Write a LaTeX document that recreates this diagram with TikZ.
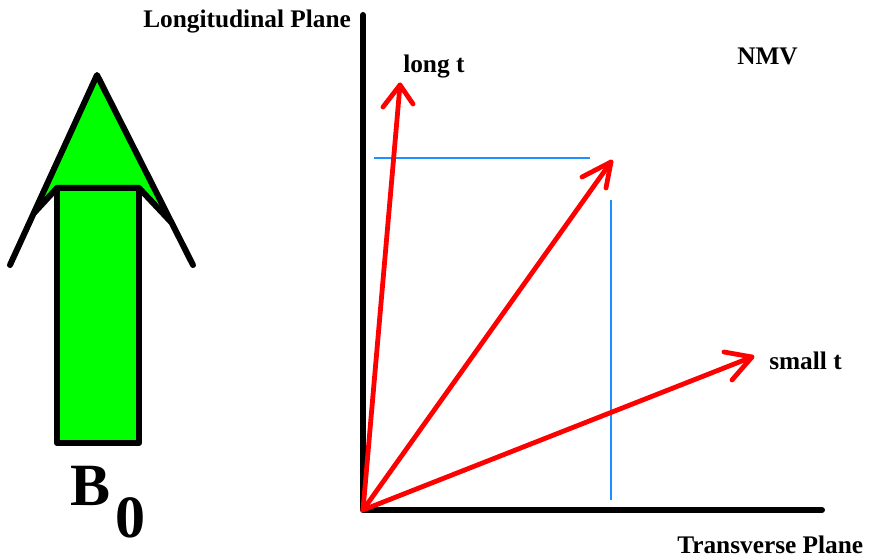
\documentclass[tikz,border=0pt]{standalone}
\usepackage{fontspec}
\setmainfont{Liberation Serif}
\definecolor{bgreen}{RGB}{0,255,0}
\definecolor{vred}{RGB}{255,0,0}
\definecolor{lblue}{RGB}{30,144,255}
\begin{document}
\begin{tikzpicture}[x=0.75pt,y=-0.75pt,
  blk/.style={line width=4.5pt,line cap=round,line join=round,black},
  vec/.style={line width=3.6pt,line cap=round,line join=round,vred},
  guide/.style={line width=1.8pt,lblue},
  lbl/.style={inner sep=0pt,anchor=base west,font=\fontsize{19pt}{20pt}\selectfont\bfseries},
  big/.style={inner sep=0pt,anchor=base west,font=\fontsize{45pt}{48pt}\selectfont\bfseries}]
\useasboundingbox (0,0) rectangle (871,559);
% big B0 arrow
\coordinate (tip) at (97,75);
\coordinate (bl) at (10,265);
\coordinate (br) at (193,265);
\coordinate (sl) at (34,213);
\coordinate (sr) at (171,222);
\coordinate (rtl) at (57,188);
\coordinate (rtr) at (139,188);
\coordinate (rbl) at (57,443);
\coordinate (rbr) at (139,443);
\fill[bgreen] (tip) -- (sl) -- (rtl) -- (rtr) -- (sr) -- cycle;
\fill[bgreen] (rtl) rectangle (rbr);
\draw[blk] (bl) -- (tip) -- (br);
\draw[blk] (sl) -- (rtl) -- (rtr) -- (sr);
\draw[blk] (rtl) -- (rbl) -- (rbr) -- (rtr);
\node[big] (B) at (70,505) {B};
\node[big] (zero) at (115,537) {0};
% axes
\coordinate (O) at (363,510);
\coordinate (ytop) at (363,15);
\coordinate (xend) at (822,510);
\draw[blk] (ytop) -- (O) -- (xend);
\node[lbl] (long) at (143,28) {Longitudinal Plane};
\node[lbl] (trans) at (677,553) {Transverse Plane};
% guides
\coordinate (g1) at (374,158);
\coordinate (g2) at (590,158);
\coordinate (g3) at (611,200);
\coordinate (g4) at (611,500);
\draw[guide] (g1) -- (g2);
\draw[guide] (g3) -- (g4);
% vectors
\coordinate (t1) at (400,85);
\coordinate (t1a) at (383,107);
\coordinate (t1b) at (413,104);
\coordinate (t2) at (611,162);
\coordinate (t2a) at (582,177);
\coordinate (t2b) at (606,188);
\coordinate (t3) at (752,357);
\coordinate (t3a) at (724,352);
\coordinate (t3b) at (732,380);
\draw[vec] (O) -- (t1);
\draw[vec] (t1a) -- (t1) -- (t1b);
\draw[vec] (O) -- (t2);
\draw[vec] (t2a) -- (t2) -- (t2b);
\draw[vec] (O) -- (t3);
\draw[vec] (t3a) -- (t3) -- (t3b);
\node[lbl] (longt) at (403,73) {long t};
\node[lbl] (nmv) at (737,65) {NMV};
\node[lbl] (smallt) at (769,370) {small t};
\end{tikzpicture}
\end{document}
